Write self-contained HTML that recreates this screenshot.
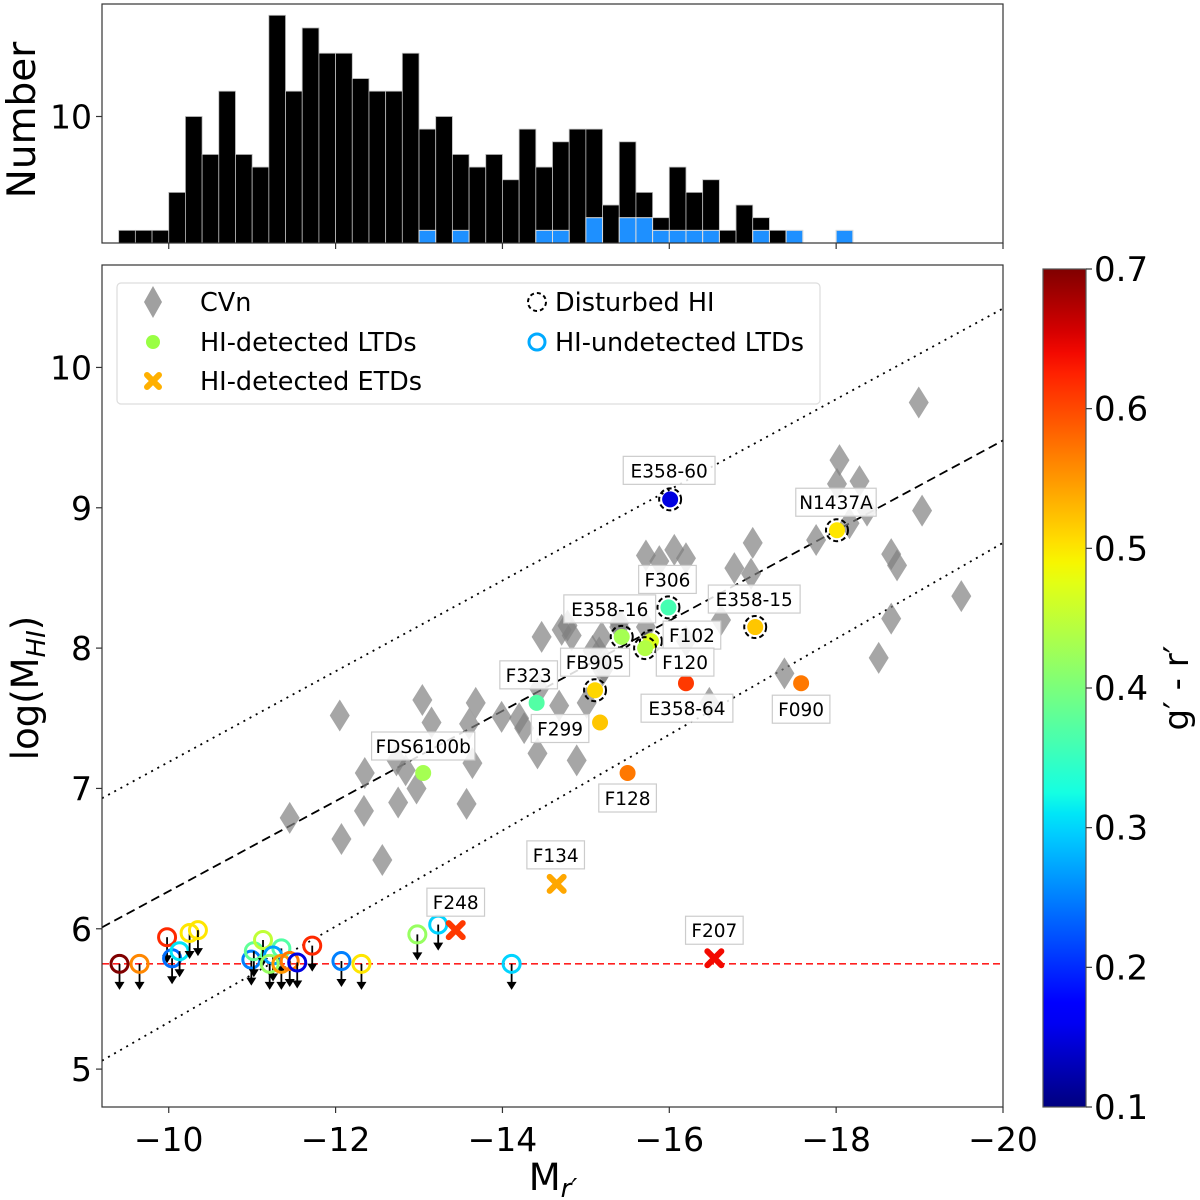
<!DOCTYPE html>
<html><head><meta charset="utf-8">
<style>
html,body{margin:0;padding:0;background:#fff;}
svg{display:block;font-family:"DejaVu Sans","Liberation Sans",sans-serif;}
</style></head>
<body>
<svg id="fig" width="1200" height="1200" viewBox="0 0 1200 1200" xmlns="http://www.w3.org/2000/svg">
  <rect x="0" y="0" width="1200" height="1200" fill="#fff"/>
  <g id="hist"></g>
  <g id="main"></g>
  <g id="cbar"></g>
</svg>
<script>
// ---------- DATA ----------
const histStart = -9.4;
const histWidth = 0.2;
const histAll = [1,1,1,4,10,7,12,7,6,18,12,17,15,15,13,12,12,15,9,10,7,6,7,5,9,6,8,9,9,3,8,4,2,6,4,5,1,3,2,1,1,0,0,1];
const histLTD = [0,0,0,0,0,0,0,0,0,0,0,0,0,0,0,0,0,0,1,0,1,0,0,0,0,1,1,0,2,0,2,2,1,1,1,1,0,0,1,0,1,0,0,1];

const cvnM = [-12.05,-13.04,-13.15,-13.68,-13.60,-12.35,-12.73,-12.84,-12.97,-12.75,-12.34,-11.45,-12.07,-12.56,-13.57,-13.64,-13.99,-14.20,-14.26,-14.42,-14.68,-14.89,-15.01,-14.44,-14.47,-14.71,-14.83,-14.78,-15.16,-15.08,-15.22,-15.40,
  -18.04,-18.01,-18.28,-18.37,-18.16,-17.76,-19.03,-18.66,-18.73,-19.50,-18.66,-18.51,-17.00,-16.78,-16.98,-16.62,-15.72,-15.88,-16.06,-16.20,-16.20,-17.38,-16.48,-15.40,-15.72,-15.19,-15.20,-18.99];
const cvnHI = [7.52,7.63,7.47,7.61,7.46,7.11,7.20,7.13,7.00,6.90,6.84,6.79,6.64,6.49,6.89,7.18,7.51,7.50,7.43,7.25,7.59,7.20,7.61,7.71,8.08,8.13,8.09,8.16,7.97,7.98,7.86,8.15,
  9.34,9.17,9.19,8.98,8.89,8.77,8.98,8.67,8.59,8.37,8.21,7.93,8.75,8.57,8.53,8.20,8.66,8.62,8.70,8.64,8.05,7.82,7.61,8.18,8.15,8.08,7.84,9.75];

const ltdNames = ["E358-60","N1437A","F306","E358-16","F102","F120","E358-15","FB905","F299","E358-64","F090","F323","FDS6100b","F128"];
const ltdM = [-16.01,-18.01,-15.99,-15.43,-15.78,-15.71,-17.03,-15.11,-15.17,-16.20,-17.58,-14.41,-13.05,-15.50];
const ltdHI = [9.06,8.84,8.29,8.08,8.05,8.00,8.15,7.70,7.47,7.75,7.75,7.61,7.11,7.11];
const ltdColor = [0.15,0.50,0.36,0.43,0.47,0.44,0.52,0.51,0.52,0.61,0.57,0.37,0.43,0.57];
const ltdDisturbed = [1,1,1,1,1,1,1,1,0,0,0,0,0,0];

const etdNames = ["F134","F248","F207"];
const etdM = [-14.65,-13.44,-16.54];
const etdHI = [6.32,5.99,5.79];
const etdColor = [0.54,0.61,0.64];

const undM = [-9.41,-9.65,-9.98,-10.04,-10.13,-10.25,-10.35,-10.99,-11.02,-11.13,-11.35,-11.25,-11.21,-11.35,-11.45,-11.54,-11.72,-12.07,-12.31,-12.98,-13.23,-14.11];
const undHI = [5.75,5.75,5.94,5.79,5.84,5.97,5.99,5.78,5.84,5.92,5.86,5.81,5.75,5.75,5.77,5.76,5.88,5.77,5.75,5.96,6.03,5.75];
const undColor = [0.70,0.56,0.62,0.24,0.31,0.50,0.50,0.25,0.38,0.45,0.37,0.27,0.42,0.55,0.57,0.15,0.62,0.25,0.50,0.42,0.30,0.30];

const relLineM = [-9.2,-20];
const relMid = [6.01,9.48];
const relUpper = [6.93,10.42];
const relLower = [5.06,8.75];
const hiLimit = 5.75;

const xTicks = [-10,-12,-14,-16,-18,-20];
const yTicks = [5,6,7,8,9,10];
const cTicks = [0.1,0.2,0.3,0.4,0.5,0.6,0.7];

// ---------- LAYOUT ----------
const NS = "http://www.w3.org/2000/svg";
const AX = {l:102, r:1003, t:265, b:1107};
const HX = {t:4, b:243};
const CB = {l:1043, r:1086, t:269, b:1107};
const xMin=-9.2, xMax=-20, yMin=4.73, yMax=10.73;
function sx(m){ return AX.l + (m - xMin)/(xMax - xMin)*(AX.r-AX.l); }
function sy(v){ return AX.b - (v - yMin)/(yMax - yMin)*(AX.b-AX.t); }
function hy(n){ return HX.b - n*12.65; }
function cy(c){ return CB.b - (c-0.1)/0.6*(CB.b-CB.t); }
function interp(pts,t){
  for(let i=1;i<pts.length;i++){
    if(t<=pts[i][0]){ const a=pts[i-1], b=pts[i]; return a[1]+(b[1]-a[1])*(t-a[0])/(b[0]-a[0]); }
  }
  return pts[pts.length-1][1];
}
const JR=[[0,0],[0.35,0],[0.66,1],[0.89,1],[1,0.5]];
const JG=[[0,0],[0.125,0],[0.375,1],[0.64,1],[0.91,0],[1,0]];
const JB=[[0,0.5],[0.11,1],[0.34,1],[0.65,0],[1,0]];
function jet(v){
  const t = Math.max(0,Math.min(1,(v-0.1)/0.6));
  return `rgb(${Math.round(interp(JR,t)*255)},${Math.round(interp(JG,t)*255)},${Math.round(interp(JB,t)*255)})`;
}
function mk(tag, attrs, parent){
  const e = document.createElementNS(NS, tag);
  for (const k in attrs) e.setAttribute(k, attrs[k]);
  parent.appendChild(e);
  return e;
}
const H = document.getElementById('hist'), M = document.getElementById('main'), C = document.getElementById('cbar');

// ---------- HISTOGRAM ----------
histAll.forEach((n,i)=>{
  if(!n) return;
  const x0 = sx(histStart - i*histWidth), x1 = sx(histStart-(i+1)*histWidth);
  const r = mk('rect',{x:x0,y:hy(n),width:x1-x0,height:HX.b-hy(n),fill:'#000',stroke:'#bbb','stroke-width':0.8},H);
  
  
});
histLTD.forEach((n,i)=>{
  if(!n) return;
  const x0 = sx(histStart - i*histWidth), x1 = sx(histStart-(i+1)*histWidth);
  const r = mk('rect',{x:x0,y:hy(n),width:x1-x0,height:HX.b-hy(n),fill:'#1e90ff',stroke:'#ddd','stroke-width':1},H);
  
  
});
{
  const fr = mk('rect',{x:AX.l,y:HX.t,width:AX.r-AX.l,height:HX.b-HX.t,fill:'none',stroke:'#333','stroke-width':1.2},H);
  
  
  xTicks.forEach(t=>{ const l=mk('line',{x1:sx(t),x2:sx(t),y1:HX.b,y2:HX.b+6,stroke:'#333','stroke-width':1.2},H);
      });
  const tl = mk('line',{x1:AX.l-6,x2:AX.l,y1:hy(10),y2:hy(10),stroke:'#333','stroke-width':1.2},H);
   
  const tt = mk('text',{x:AX.l-10,y:hy(10)+12,'font-size':33,'text-anchor':'end'},H); tt.textContent='10';
   
  const yl = mk('text',{x:0,y:0,'font-size':39,'text-anchor':'middle',transform:'translate(35,120) rotate(-90)'},H); yl.textContent='Number';
   
}

// ---------- MAIN PANEL ----------
const clip = mk('clipPath',{id:'axclip'},M);
mk('rect',{x:AX.l,y:AX.t,width:AX.r-AX.l,height:AX.b-AX.t},clip);
const P = mk('g',{'clip-path':'url(#axclip)'},M);
 

[[relUpper,'2,5','upper-scatter-line'],[relMid,'9,5','relation-fit-line'],[relLower,'2,5','lower-scatter-line']].forEach(([arr,da,nm])=>{
  const l = mk('line',{x1:sx(relLineM[0]),y1:sy(arr[0]),x2:sx(relLineM[1]),y2:sy(arr[1]),stroke:'#000','stroke-width':1.8,'stroke-dasharray':da},P);
   
});
{
  const l = mk('line',{x1:AX.l,x2:AX.r,y1:sy(hiLimit),y2:sy(hiLimit),stroke:'#ff2020','stroke-width':1.6,'stroke-dasharray':'7,4'},P);
   
}
cvnM.forEach((m,i)=>{
  const x=sx(m), y=sy(cvnHI[i]);
  const d = mk('polygon',{points:`${x},${y-16} ${x+10},${y} ${x},${y+16} ${x-10},${y}`,fill:'#808080','fill-opacity':0.7},P);
   
});
undM.forEach((m,i)=>{
  const x=sx(m), y=sy(undHI[i]);
  const g = mk('g',{},P);
   
  mk('line',{x1:x,x2:x,y1:y,y2:y+20,stroke:'#000','stroke-width':1.8},g);
  mk('polygon',{points:`${x-5},${y+18} ${x+5},${y+18} ${x},${y+26}`,fill:'#000'},g);
  mk('circle',{cx:x,cy:y,r:8.5,fill:'none',stroke:jet(undColor[i]),'stroke-width':3},g);
});
function labelBox(txt,x,y,parent){
  const g = mk('g',{},parent);
   
  const w = txt.length*11.4+12;
  mk('rect',{x:x-w/2,y:y-14,width:w,height:28,fill:'#fff','fill-opacity':0.85,stroke:'#ccc','stroke-width':1.2},g);
  const t = mk('text',{x:x,y:y+7,'font-size':18.5,'text-anchor':'middle',fill:'#000'},g);
  t.textContent = txt;
}
const ltdOff = [[-1,-29],[-1,-28],[-1,-28],[-12,-28],[41,-6],[40,14],[-1,-28],[0,-28],[-40,6],[1,25],[0,26],[-8,-28],[0,-27],[0,25]];
const etdOff = [[-1,-29],[0,-28],[0,-28]];
ltdM.forEach((m,i)=>{
  const x=sx(m), y=sy(ltdHI[i]);
  const c = mk('circle',{cx:x,cy:y,r:8,fill:jet(ltdColor[i])},P);
   
  if(ltdDisturbed[i]){
    const r = mk('circle',{cx:x,cy:y,r:11,fill:'none',stroke:'#000','stroke-width':2,'stroke-dasharray':'5,3'},P);
     
  }
});
etdM.forEach((m,i)=>{
  const x=sx(m), y=sy(etdHI[i]);
  const p = mk('path',{d:`M${x-7},${y-7}L${x+7},${y+7}M${x+7},${y-7}L${x-7},${y+7}`,stroke:jet(etdColor[i]),'stroke-width':6,'stroke-linecap':'round',fill:'none'},P);
   
});
ltdM.forEach((m,i)=> labelBox(ltdNames[i], sx(m)+ltdOff[i][0], sy(ltdHI[i])+ltdOff[i][1], P));
etdM.forEach((m,i)=> labelBox(etdNames[i], sx(m)+etdOff[i][0], sy(etdHI[i])+etdOff[i][1], P));

{
  const fr = mk('rect',{x:AX.l,y:AX.t,width:AX.r-AX.l,height:AX.b-AX.t,fill:'none',stroke:'#333','stroke-width':1.2},M);
   
  xTicks.forEach(t=>{
    const l = mk('line',{x1:sx(t),x2:sx(t),y1:AX.b,y2:AX.b+6,stroke:'#333','stroke-width':1.2},M);
     
    const tx = mk('text',{x:sx(t),y:AX.b+44,'font-size':33,'text-anchor':'middle'},M);
    tx.textContent = '\u2212'+Math.abs(t);
     
  });
  yTicks.forEach(t=>{
    const l = mk('line',{x1:AX.l-6,x2:AX.l,y1:sy(t),y2:sy(t),stroke:'#333','stroke-width':1.2},M);
     
    const tx = mk('text',{x:AX.l-10,y:sy(t)+12,'font-size':33,'text-anchor':'end'},M);
    tx.textContent = String(t);
     
  });
  const xl = mk('text',{x:553,y:1190,'font-size':37,'text-anchor':'middle'},M);
  xl.innerHTML = 'M<tspan font-size="26" font-style="italic" dy="7">r\u2032</tspan>';
   
  const yl = mk('text',{x:0,y:0,'font-size':37,'text-anchor':'middle',transform:'translate(38,688) rotate(-90)'},M);
  yl.innerHTML = 'log(M<tspan font-size="26" font-style="italic" dy="7">HI</tspan><tspan dy="-7">)</tspan>';
   
}
{
  const L = mk('g',{},M);
   
  mk('rect',{x:117,y:283,width:703,height:121,rx:4,fill:'#fff','fill-opacity':0.9,stroke:'#ddd','stroke-width':1.2},L);
  const items = [
    ['CVn',200,302,'d'],['HI-detected LTDs',200,342,'c'],['HI-detected ETDs',200,381,'x'],
    ['Disturbed HI',555,302,'r'],['HI-undetected LTDs',555,342,'o']];
  items.forEach(([t,tx,ty,k])=>{
    const g = mk('g',{},L);
     
    const mx = tx<300 ? 153 : 537;
    if(k==='d') mk('polygon',{points:`${mx},${ty-16} ${mx+9},${ty} ${mx},${ty+16} ${mx-9},${ty}`,fill:'#a0a0a0'},g);
    if(k==='c') mk('circle',{cx:mx,cy:ty,r:7,fill:'#99ff44'},g);
    if(k==='x') mk('path',{d:`M${mx-6},${ty-6}L${mx+6},${ty+6}M${mx+6},${ty-6}L${mx-6},${ty+6}`,stroke:'#ffb000','stroke-width':6,'stroke-linecap':'round'},g);
    if(k==='r') mk('circle',{cx:mx,cy:ty,r:9,fill:'none',stroke:'#000','stroke-width':2,'stroke-dasharray':'4,3'},g);
    if(k==='o') mk('circle',{cx:mx,cy:ty,r:8,fill:'none',stroke:'#00aaff','stroke-width':3},g);
    const te = mk('text',{x:tx,y:ty+9,'font-size':25.5},g); te.textContent=t;
  });
}

// ---------- COLORBAR ----------
{
  const defs = mk('defs',{},C);
  const gr = mk('linearGradient',{id:'jetg',x1:0,y1:1,x2:0,y2:0},defs);
  for(let i=0;i<=40;i++){ const v=0.1+0.6*i/40; mk('stop',{offset:(i/40),'stop-color':jet(v)},gr); }
  const r = mk('rect',{x:CB.l,y:CB.t,width:CB.r-CB.l,height:CB.b-CB.t,fill:'url(#jetg)',stroke:'#555','stroke-width':1.2},C);
   
  cTicks.forEach(t=>{
    const l = mk('line',{x1:CB.r,x2:CB.r+6,y1:cy(t),y2:cy(t),stroke:'#333','stroke-width':1.2},C);
     
    const tx = mk('text',{x:CB.r+8,y:cy(t)+12,'font-size':34},C);
    tx.textContent = t.toFixed(1);
     
  });
  const cl = mk('text',{x:0,y:0,'font-size':34,'text-anchor':'middle',transform:'translate(1188,688) rotate(-90)'},C);
  cl.textContent = 'g\u2032 - r\u2032';
   
}
</script>
</body></html>
